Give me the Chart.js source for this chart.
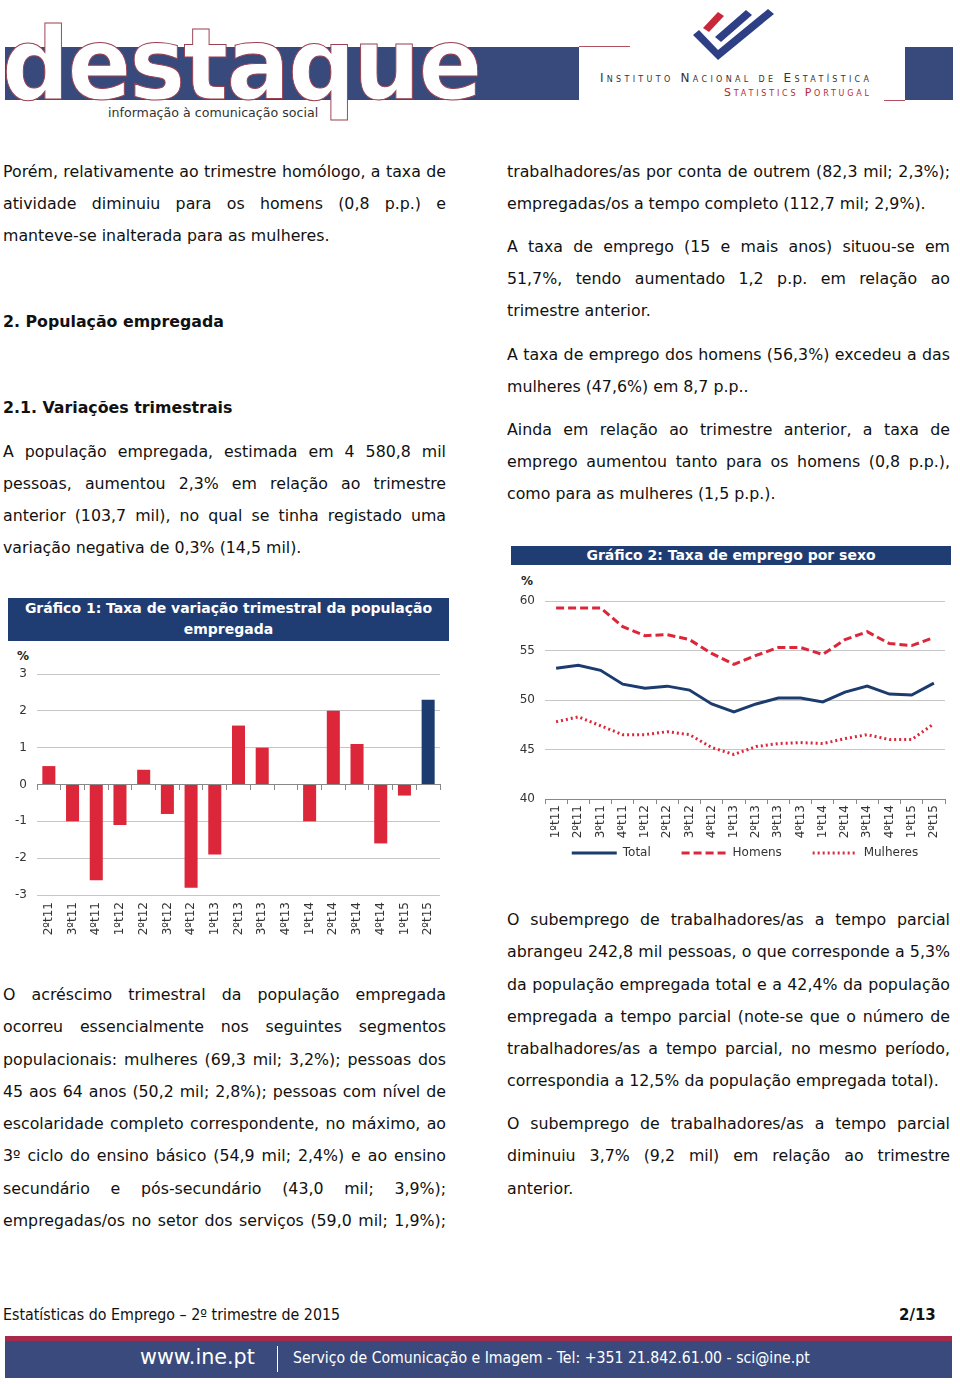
<!DOCTYPE html>
<html>
<head>
<meta charset="utf-8">
<script src="https://cdn.jsdelivr.net/npm/chart.js@4.4.1/dist/chart.umd.min.js"></script>
<style>
  body { margin: 0; width: 960px; height: 1384px; background: #fff; position: relative; overflow: hidden; font-family: "DejaVu Sans", Verdana, sans-serif; color: #111; }
  .abs { position: absolute; }
  .col { position: absolute; width: 443px; font-size: 15.8px; line-height: 32px; }
  .col div { white-space: nowrap; }
  .h { font-weight: bold; font-size: 15.8px; line-height: 32px; }
  .ttl { position: absolute; background: #1f3d72; color: #fff; font-weight: bold; font-size: 14px; text-align: center; }
  .pct { position: absolute; font-weight: bold; font-size: 12px; color: #222; }
</style>
</head>
<body>

<!-- cabeçalho -->
<div class="abs" style="left:5px;top:47px;width:574px;height:53px;background:#384a7c"></div>
<div class="abs" style="left:579px;top:46px;width:51px;height:1px;background:#b05060"></div>
<div class="abs" style="left:2px;top:15px;font-size:100px;line-height:100px;font-weight:bold;color:#fff;-webkit-text-stroke:1px #9a4050;letter-spacing:-2px;transform:scaleX(0.94);transform-origin:left top;">destaque</div>
<div class="abs" style="left:108px;top:105px;font-size:13px;color:#333;transform:scaleX(0.97);transform-origin:left top;">informação à comunicação social</div>

<svg class="abs" style="left:680px;top:0" width="110" height="70">
  <polygon points="23,28 38,12 44,16 29,32" fill="#c8283a"/>
  <polygon points="13,35 19,30 38,50 88,9 94,14 38,60" fill="#2f3f86"/>
  <polygon points="35,37 66,10 72,15 41,42" fill="#2f3f86"/>
</svg>
<div class="abs" style="left:600px;top:71px;font-size:12px;letter-spacing:3.3px;font-variant:small-caps;color:#333;">Instituto Nacional de Estatística</div>
<div class="abs" style="left:724px;top:86px;font-size:11px;letter-spacing:2.8px;font-variant:small-caps;color:#b02a3a;">Statistics Portugal</div>
<div class="abs" style="left:905px;top:47px;width:48px;height:53px;background:#384a7c"></div>
<div class="abs" style="left:884px;top:100px;width:21px;height:1px;background:#b05060"></div>

<!-- coluna esquerda -->
<div class="col" style="left:3px;top:156px">
  <div>Porém, relativamente ao trimestre homólogo, a taxa de</div>
  <div>atividade diminuiu para os homens (0,8 p.p.) e</div>
  <div class="end">manteve-se inalterada para as mulheres.</div>
</div>
<div class="abs h" style="left:3px;top:306px">2. População empregada</div>
<div class="abs h" style="left:3px;top:392px">2.1. Variações trimestrais</div>
<div class="col" style="left:3px;top:436px">
  <div>A população empregada, estimada em 4 580,8 mil</div>
  <div>pessoas, aumentou 2,3% em relação ao trimestre</div>
  <div>anterior (103,7 mil), no qual se tinha registado uma</div>
  <div class="end">variação negativa de 0,3% (14,5 mil).</div>
</div>

<div class="ttl" style="left:8px;top:598px;width:441px;height:43px;line-height:21px;">Gráfico 1: Taxa de variação trimestral da população<br>empregada</div>
<div class="pct" style="left:17px;top:649px">%</div>
<canvas id="chart1" class="abs" style="left:0;top:645px" width="455" height="295"></canvas>

<div class="col" style="left:3px;top:979px;line-height:32.3px">
  <div>O acréscimo trimestral da população empregada</div>
  <div>ocorreu essencialmente nos seguintes segmentos</div>
  <div>populacionais: mulheres (69,3 mil; 3,2%); pessoas dos</div>
  <div>45 aos 64 anos (50,2 mil; 2,8%); pessoas com nível de</div>
  <div>escolaridade completo correspondente, no máximo, ao</div>
  <div>3º ciclo do ensino básico (54,9 mil; 2,4%) e ao ensino</div>
  <div>secundário e pós-secundário (43,0 mil; 3,9%);</div>
  <div>empregadas/os no setor dos serviços (59,0 mil; 1,9%);</div>
</div>

<!-- coluna direita -->
<div class="col" style="left:507px;top:156px">
  <div>trabalhadores/as por conta de outrem (82,3 mil; 2,3%);</div>
  <div class="end">empregadas/os a tempo completo (112,7 mil; 2,9%).</div>
</div>
<div class="col" style="left:507px;top:231px">
  <div>A taxa de emprego (15 e mais anos) situou-se em</div>
  <div>51,7%, tendo aumentado 1,2 p.p. em relação ao</div>
  <div class="end">trimestre anterior.</div>
</div>
<div class="col" style="left:507px;top:339px">
  <div>A taxa de emprego dos homens (56,3%) excedeu a das</div>
  <div class="end">mulheres (47,6%) em 8,7 p.p..</div>
</div>
<div class="col" style="left:507px;top:414px">
  <div>Ainda em relação ao trimestre anterior, a taxa de</div>
  <div>emprego aumentou tanto para os homens (0,8 p.p.),</div>
  <div class="end">como para as mulheres (1,5 p.p.).</div>
</div>

<div class="ttl" style="left:511px;top:546px;width:440px;height:19px;line-height:19px;">Gráfico 2: Taxa de emprego por sexo</div>
<div class="pct" style="left:521px;top:574px">%</div>
<canvas id="chart2" class="abs" style="left:505px;top:575px" width="455" height="294"></canvas>

<div class="col" style="left:507px;top:904px;line-height:32.3px">
  <div>O subemprego de trabalhadores/as a tempo parcial</div>
  <div>abrangeu 242,8 mil pessoas, o que corresponde a 5,3%</div>
  <div>da população empregada total e a 42,4% da população</div>
  <div>empregada a tempo parcial (note-se que o número de</div>
  <div>trabalhadores/as a tempo parcial, no mesmo período,</div>
  <div class="end">correspondia a 12,5% da população empregada total).</div>
</div>
<div class="col" style="left:507px;top:1108px;line-height:32.3px">
  <div>O subemprego de trabalhadores/as a tempo parcial</div>
  <div>diminuiu 3,7% (9,2 mil) em relação ao trimestre</div>
  <div class="end">anterior.</div>
</div>

<!-- rodapé -->
<div class="abs" style="left:3px;top:1306px;font-size:15px;color:#111;transform:scaleX(0.95);transform-origin:left top;">Estatísticas do Emprego – 2º trimestre de 2015</div>
<div class="abs" style="left:899px;top:1306px;font-size:15px;font-weight:bold;color:#111;">2/13</div>
<div class="abs" style="left:5px;top:1336px;width:947px;height:5px;background:#a8294a"></div>
<div class="abs" style="left:5px;top:1341px;width:947px;height:37px;background:#3a4a7c"></div>
<div class="abs" style="left:140px;top:1345px;font-size:21px;color:#fff;transform:scaleX(0.985);transform-origin:left top;">www.ine.pt</div>
<div class="abs" style="left:277px;top:1346px;width:1px;height:26px;background:#fff"></div>
<div class="abs" style="left:293px;top:1349px;font-size:15px;color:#fff;transform:scaleX(0.94);transform-origin:left top;">Serviço de Comunicação e Imagem - Tel: +351 21.842.61.00 - sci@ine.pt</div>

<script>
// justificar cada linha à largura da coluna
document.querySelectorAll('.col div').forEach(el => {
  if (el.classList.contains('end')) return;
  el.innerHTML = '<span>' + el.innerHTML + '</span>';
  const w = el.firstChild.getBoundingClientRect().width;
  const gaps = el.textContent.split(' ').length - 1;
  if (gaps > 0) el.style.wordSpacing = ((443 - w) / gaps) + 'px';
});

// dados do gráfico 1
const quarters1 = ['2ºt11', '3ºt11', '4ºt11', '1ºt12', '2ºt12', '3ºt12', '4ºt12', '1ºt13', '2ºt13',
  '3ºt13', '4ºt13', '1ºt14', '2ºt14', '3ºt14', '4ºt14', '1ºt15', '2ºt15'];
const variation = [0.5, -1.0, -2.6, -1.1, 0.4, -0.8, -2.8, -1.9, 1.6, 1.0, 0.0, -1.0, 2.0, 1.1, -1.6, -0.3, 2.3];

// dados do gráfico 2
const quarters2 = ['1ºt11', '2ºt11', '3ºt11', '4ºt11', '1ºt12', '2ºt12', '3ºt12', '4ºt12', '1ºt13',
  '2ºt13', '3ºt13', '4ºt13', '1ºt14', '2ºt14', '3ºt14', '4ºt14', '1ºt15', '2ºt15'];
const total = [53.2, 53.5, 53.0, 51.6, 51.2, 51.4, 51.0, 49.6, 48.8, 49.6, 50.2, 50.2, 49.8, 50.8, 51.4, 50.6, 50.5, 51.7];
const homens = [59.3, 59.3, 59.3, 57.4, 56.5, 56.6, 56.1, 54.7, 53.6, 54.5, 55.3, 55.3, 54.6, 56.1, 56.9, 55.7, 55.5, 56.3];
const mulheres = [47.8, 48.3, 47.4, 46.5, 46.5, 46.8, 46.5, 45.2, 44.5, 45.3, 45.6, 45.7, 45.6, 46.1, 46.5, 46.0, 46.0, 47.6];

const RED = '#dc2639';
const NAVY = '#1c3b6e';
const tickFont = { family: 'DejaVu Sans', size: 12 };
const tickColor = '#333';

new Chart(document.getElementById('chart1'), {
  type: 'bar',
  data: {
    labels: quarters1,
    datasets: [{
      data: variation,
      backgroundColor: ctx => ctx.dataIndex === variation.length - 1 ? NAVY : RED,
      barPercentage: 0.55,
      categoryPercentage: 1
    }]
  },
  options: {
    responsive: false,
    animation: false,
    layout: { padding: { top: 29, right: 15, left: 0, bottom: 0 } },
    plugins: { legend: { display: false }, tooltip: { enabled: false } },
    scales: {
      x: {
        position: { y: 0 },
        ticks: { display: false },
        grid: { drawOnChartArea: false, offset: true, tickLength: 5, tickColor: '#888' },
        border: { color: '#888' }
      },
      xl: {
        type: 'category',
        labels: quarters1,
        position: 'bottom',
        offset: true,
        ticks: { minRotation: 90, maxRotation: 90, autoSkip: false, font: tickFont, color: tickColor, padding: 7 },
        grid: { display: false, drawTicks: false },
        border: { display: false },
        afterFit: s => { s.height = 45; }
      },
      y: {
        min: -3,
        max: 3,
        ticks: { stepSize: 1, font: tickFont, color: tickColor, padding: 10 },
        grid: { color: '#c6c6c6', drawTicks: false },
        border: { display: false },
        afterFit: s => { s.width = 37; }
      }
    }
  }
});

// legenda com o tracejado de cada série (espaço extra entre itens)
const legendLabels = chart => Chart.defaults.plugins.legend.labels.generateLabels(chart).map((item, i, all) => {
  const ds = chart.data.datasets[item.datasetIndex];
  const gap = i < all.length - 1 ? '\u2003\u2002\u2009\u2009' : '';
  return Object.assign(item, { text: item.text + gap, lineDash: ds.borderDash || [], lineWidth: 3, strokeStyle: ds.borderColor, lineCap: 'butt' });
});

new Chart(document.getElementById('chart2'), {
  type: 'line',
  data: {
    labels: quarters2,
    datasets: [
      { label: 'Total', data: total, borderColor: NAVY, borderWidth: 3, pointRadius: 0, tension: 0 },
      { label: 'Homens', data: homens, borderColor: RED, borderWidth: 3, borderDash: [8, 4], pointRadius: 0, tension: 0 },
      { label: 'Mulheres', data: mulheres, borderColor: RED, borderWidth: 3, borderDash: [2, 3], pointRadius: 0, tension: 0 }
    ]
  },
  options: {
    responsive: false,
    animation: false,
    layout: { padding: { top: 26, right: 15, left: 0, bottom: 0 } },
    plugins: {
      tooltip: { enabled: false },
      legend: {
        position: 'bottom',
        fullSize: false,
        labels: {
          usePointStyle: true,
          pointStyle: 'line',
          pointStyleWidth: 45,
          boxHeight: 12,
          padding: 8,
          font: tickFont,
          color: tickColor,
          generateLabels: legendLabels
        }
      }
    },
    scales: {
      x: {
        offset: true,
        ticks: { minRotation: 90, maxRotation: 90, autoSkip: false, font: tickFont, color: tickColor, padding: 1 },
        grid: { drawOnChartArea: false, offset: true, tickLength: 5, tickColor: '#888' },
        border: { color: '#888' },
        afterFit: s => { s.height = 40; }
      },
      y: {
        min: 40,
        max: 60,
        ticks: { stepSize: 5, font: tickFont, color: tickColor, padding: 10 },
        grid: { color: c => c.tick.value === 40 ? 'rgba(0,0,0,0)' : '#c6c6c6', drawTicks: false },
        border: { display: false },
        afterFit: s => { s.width = 40; }
      }
    }
  }
});
</script>
</body>
</html>
